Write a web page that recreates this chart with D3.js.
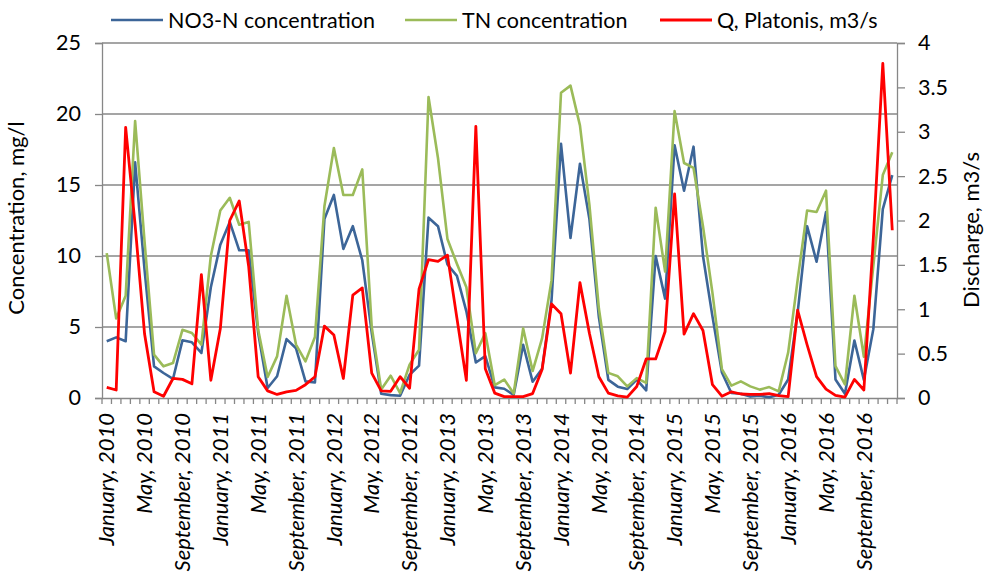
<!DOCTYPE html>
<html>
<head>
<meta charset="utf-8">
<script src="https://cdn.jsdelivr.net/npm/d3@7"></script>
<style>
  body { margin: 0; background: #fff; }
  text { font-family: Lato, "Open Sans", sans-serif; fill: #000; }
</style>
</head>
<body>
<svg id="chart" width="993" height="584"></svg>
<script>
// months Jan 2010 .. Dec 2016
const monthNames = ['January', 'February', 'March', 'April', 'May', 'June', 'July',
  'August', 'September', 'October', 'November', 'December'];
const years = [2010, 2011, 2012, 2013, 2014, 2015, 2016];
const months = years.flatMap(y => monthNames.map(m => `${m}, ${y}`));

// NO3-N concentration, mg/l
const no3 = [4.0, 4.27, 4.0, 16.6, 9.0, 2.23, 1.76, 1.34, 4.06, 3.92, 3.17, 7.8,
  10.8, 12.4, 10.4, 10.4, 4.6, 0.7, 1.53, 4.15, 3.5, 1.17, 1.1, 12.6,
  14.3, 10.5, 12.1, 9.7, 4.6, 0.3, 0.2, 0.16, 1.64, 2.28, 12.7, 12.1,
  9.4, 8.6, 6.1, 2.5, 2.95, 0.75, 0.65, 0.22, 3.75, 1.15, 2.05, 6.9,
  17.9, 11.27, 16.5, 12.6, 5.7, 1.28, 0.8, 0.63, 1.29, 0.54, 10.0, 7.0,
  17.8, 14.6, 17.7, 10.0, 5.75, 1.8, 0.35, 0.3, 0.1, 0.16, 0.05, 0.23,
  1.3, 6.0, 12.1, 9.6, 13.1, 1.3, 0.3, 4.05, 1.28, 4.85, 13.3, 15.7];

// TN concentration, mg/l
const tn = [10.2, 5.6, 7.2, 19.5, 11.0, 3.05, 2.23, 2.46, 4.8, 4.58, 3.76, 10.0,
  13.2, 14.1, 12.2, 12.4, 4.8, 1.48, 2.93, 7.2, 3.76, 2.58, 4.3, 13.5,
  17.6, 14.3, 14.3, 16.1, 5.0, 0.6, 1.57, 0.35, 2.35, 3.4, 21.2, 16.9,
  11.2, 9.45, 7.8, 3.15, 4.57, 0.9, 1.3, 0.32, 4.9, 1.9, 4.2, 8.3,
  21.5, 22.0, 19.2, 13.6, 6.3, 1.77, 1.53, 0.82, 1.4, 1.06, 13.4, 8.9,
  20.2, 16.55, 16.2, 12.1, 7.4, 2.04, 0.87, 1.17, 0.82, 0.59, 0.77, 0.47,
  3.2, 8.3, 13.2, 13.1, 14.6, 2.25, 0.95, 7.2, 2.9, 9.3, 15.7, 17.3];

// Q, Platonis, m3/s
const discharge = [0.12, 0.09, 3.05, 1.95, 0.72, 0.07, 0.02, 0.22, 0.21, 0.16, 1.39, 0.2,
  0.78, 2.0, 2.22, 1.48, 0.24, 0.08, 0.04, 0.07, 0.086, 0.15, 0.24, 0.81,
  0.71, 0.22, 1.16, 1.24, 0.28, 0.08, 0.075, 0.24, 0.11, 1.23, 1.56, 1.54,
  1.61, 0.9, 0.2, 3.06, 0.33, 0.055, 0.015, 0.015, 0.015, 0.05, 0.32, 1.06,
  0.95, 0.28, 1.3, 0.73, 0.24, 0.055, 0.025, 0.01, 0.13, 0.44, 0.44, 0.75,
  2.3, 0.72, 0.95, 0.76, 0.15, 0.02, 0.07, 0.045, 0.04, 0.04, 0.05, 0.026,
  0.015, 0.99, 0.6, 0.24, 0.1, 0.03, 0.01, 0.21, 0.09, 1.8, 3.77, 1.89];

const concTicks = [0, 5, 10, 15, 20, 25];
const qTicks = [0, 0.5, 1, 1.5, 2, 2.5, 3, 3.5, 4];

const series = [
  { name: 'NO3-N concentration', values: no3, axis: 'conc', color: '#3c6598' },
  { name: 'TN concentration', values: tn, axis: 'conc', color: '#9bbb59' },
  { name: 'Q, Platonis, m3/s', values: discharge, axis: 'q', color: '#ff0000' }
];

const svg = d3.select('#chart');
const plotLeft = 102, plotRight = 897, plotTop = 43, plotBottom = 398;
const gridColor = '#878787';
const fontSize = '21.5px';

const x = d3.scaleBand().domain(months).range([plotLeft, plotRight]);
const yConc = d3.scaleLinear().domain([0, 25]).range([plotBottom, plotTop]);
const yQ = d3.scaleLinear().domain([0, 4]).range([plotBottom, plotTop]);

// gridlines
svg.append('g')
  .selectAll('line')
  .data(concTicks.slice(1))
  .enter()
  .append('line')
  .attr('x1', plotLeft).attr('x2', plotRight)
  .attr('y1', d => yConc(d)).attr('y2', d => yConc(d))
  .attr('stroke', gridColor).attr('stroke-width', 1.3);

// left axis
const gLeft = svg.append('g')
  .attr('transform', `translate(${plotLeft},0)`)
  .call(d3.axisLeft(yConc).tickValues(concTicks).tickSize(7).tickPadding(14));
gLeft.selectAll('text').style('font-size', fontSize);

// right axis
const gRight = svg.append('g')
  .attr('transform', `translate(${plotRight},0)`)
  .call(d3.axisRight(yQ).tickValues(qTicks).tickSize(8).tickPadding(13).tickFormat(d3.format('')));
gRight.selectAll('text').style('font-size', fontSize);

// bottom axis, labels every 4th month
const gBottom = svg.append('g')
  .attr('transform', `translate(0,${plotBottom})`)
  .call(d3.axisBottom(x).tickValues(months.filter((d, i) => i % 4 === 0)).tickSize(0));
gBottom.selectAll('text')
  .attr('transform', 'rotate(-90)')
  .attr('x', -15)
  .attr('y', 0)
  .attr('dy', '0.35em')
  .attr('text-anchor', 'end')
  .style('font-size', '22px')
  .style('font-style', 'italic');

// category boundary ticks
svg.append('g')
  .selectAll('line')
  .data(months.map(m => x(m)).concat([plotRight]))
  .enter()
  .append('line')
  .attr('x1', d => d).attr('x2', d => d)
  .attr('y1', plotBottom).attr('y2', plotBottom + 6)
  .attr('stroke', gridColor).attr('stroke-width', 1.3);

svg.selectAll('.domain, .tick line').attr('stroke', gridColor).attr('stroke-width', 1.3);

// lines
series.forEach(s => {
  const yScale = s.axis === 'conc' ? yConc : yQ;
  const line = d3.line()
    .x((d, i) => x(months[i]) + x.bandwidth() / 2)
    .y(d => yScale(d));
  svg.append('path')
    .datum(s.values)
    .attr('d', line)
    .attr('fill', 'none')
    .attr('stroke', s.color)
    .attr('stroke-width', s.axis === 'q' ? 2.8 : 2.6)
    .attr('stroke-linejoin', 'round');
});

// axis titles
svg.append('text')
  .attr('transform', 'translate(24,218) rotate(-90)')
  .attr('text-anchor', 'middle')
  .style('font-size', '22px')
  .text('Concentration, mg/l');

svg.append('text')
  .attr('transform', 'translate(979,230) rotate(-90)')
  .attr('text-anchor', 'middle')
  .style('font-size', '22px')
  .text('Discharge, m3/s');

// legend
const legendX = [111, 405, 660];
const legend = svg.append('g')
  .selectAll('g')
  .data(series)
  .enter()
  .append('g')
  .attr('transform', (d, i) => `translate(${legendX[i]},20)`);

legend.append('line')
  .attr('x1', 0).attr('x2', 52)
  .attr('stroke', d => d.color)
  .attr('stroke-width', d => d.axis === 'q' ? 2.8 : 2.6);

legend.append('text')
  .attr('x', 57)
  .attr('dy', '0.35em')
  .style('font-size', fontSize)
  .text(d => d.name);
</script>
</body>
</html>
